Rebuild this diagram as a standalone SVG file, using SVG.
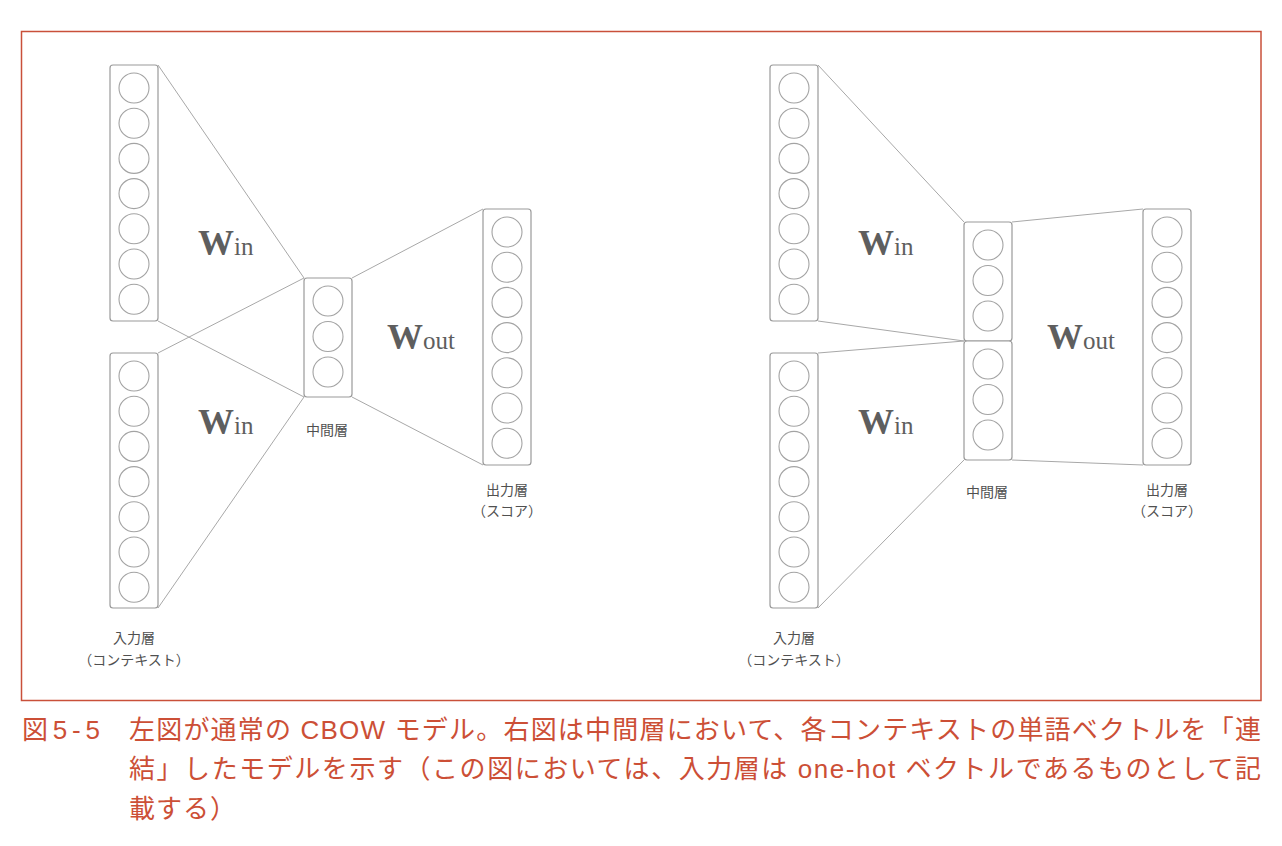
<svg xmlns="http://www.w3.org/2000/svg" width="1282" height="846" viewBox="0 0 1282 846">
<defs>
<style>
.box{fill:#fff;stroke:#9a9a9a;stroke-width:1.2}
.n{fill:none;stroke:#a3a3a3;stroke-width:1.1}
.ln{stroke:#a8a8a8;stroke-width:1;fill:none}
.W{font-family:"Liberation Serif","DejaVu Serif",serif;fill:#5e5e5e}
.Wb{font-weight:bold;font-size:36px}
.Ws{font-size:25px}
.lb{font-family:"Noto Sans CJK JP",sans-serif;font-size:14px;fill:#505050;text-anchor:middle}
.cap{font-family:"Liberation Sans","Noto Sans CJK JP",sans-serif;font-size:26px;fill:#cc4f36}
</style>
<g id="col7">
<circle class="n" cx="0" cy="23" r="15"/><circle class="n" cx="0" cy="58.2" r="15"/><circle class="n" cx="0" cy="93.4" r="15"/><circle class="n" cx="0" cy="128.6" r="15"/><circle class="n" cx="0" cy="163.8" r="15"/><circle class="n" cx="0" cy="199" r="15"/><circle class="n" cx="0" cy="234.2" r="15"/>
</g>
<g id="col3">
<circle class="n" cx="0" cy="23" r="15"/><circle class="n" cx="0" cy="58.5" r="15"/><circle class="n" cx="0" cy="94" r="15"/>
</g>
</defs>
<rect x="0" y="0" width="1282" height="846" fill="#fff"/>
<rect x="21.5" y="31.5" width="1239.5" height="669" fill="none" stroke="#c9503a" stroke-width="1.5"/>

<g id="connectors">
<line class="ln" x1="158" y1="65" x2="304" y2="278"/>
<line class="ln" x1="158" y1="321" x2="304" y2="397"/>
<line class="ln" x1="158" y1="353" x2="304" y2="278"/>
<line class="ln" x1="158" y1="608" x2="304" y2="397"/>
<line class="ln" x1="352" y1="278" x2="483" y2="209"/>
<line class="ln" x1="352" y1="397" x2="483" y2="465"/>
<line class="ln" x1="818" y1="65" x2="964" y2="222"/>
<line class="ln" x1="818" y1="321" x2="964" y2="341"/>
<line class="ln" x1="818" y1="353" x2="964" y2="341"/>
<line class="ln" x1="818" y1="608" x2="964" y2="460"/>
<line class="ln" x1="1012" y1="222" x2="1143" y2="209"/>
<line class="ln" x1="1012" y1="460" x2="1143" y2="465"/>
</g>

<g id="L-in-top"><rect class="box" x="110" y="65" width="48" height="256" rx="3"/><use href="#col7" x="134" y="65"/></g>
<g id="L-in-bot"><rect class="box" x="110" y="353" width="48" height="255" rx="3"/><use href="#col7" x="134" y="353"/></g>
<g id="L-mid"><rect class="box" x="304" y="278" width="48" height="119" rx="3"/><use href="#col3" x="328" y="278"/></g>
<g id="L-out"><rect class="box" x="483" y="209" width="48" height="256" rx="3"/><use href="#col7" x="507" y="209"/></g>

<g id="R-in-top"><rect class="box" x="770" y="65" width="48" height="256" rx="3"/><use href="#col7" x="794" y="65"/></g>
<g id="R-in-bot"><rect class="box" x="770" y="353" width="48" height="255" rx="3"/><use href="#col7" x="794" y="353"/></g>
<g id="R-mid-top"><rect class="box" x="964" y="222" width="48" height="119" rx="3"/><use href="#col3" x="988" y="222"/></g>
<g id="R-mid-bot"><rect class="box" x="964" y="341" width="48" height="119" rx="3"/><use href="#col3" x="988" y="341"/></g>
<g id="R-out"><rect class="box" x="1143" y="209" width="48" height="256" rx="3"/><use href="#col7" x="1167" y="209"/></g>

<g id="weights">
<text class="W" x="198" y="255"><tspan class="Wb">W</tspan><tspan class="Ws">in</tspan></text>
<text class="W" x="198" y="434"><tspan class="Wb">W</tspan><tspan class="Ws">in</tspan></text>
<text class="W" x="387" y="349"><tspan class="Wb">W</tspan><tspan class="Ws">out</tspan></text>
<text class="W" x="858" y="255"><tspan class="Wb">W</tspan><tspan class="Ws">in</tspan></text>
<text class="W" x="858" y="434"><tspan class="Wb">W</tspan><tspan class="Ws">in</tspan></text>
<text class="W" x="1047" y="349"><tspan class="Wb">W</tspan><tspan class="Ws">out</tspan></text>
</g>

<g id="labels">
<text class="lb" x="327" y="435">中間層</text>
<text class="lb" x="507" y="495">出力層</text>
<text class="lb" x="507" y="516">（スコア）</text>
<text class="lb" x="134" y="643">入力層</text>
<text class="lb" x="134" y="665">（コンテキスト）</text>
<text class="lb" x="987" y="497">中間層</text>
<text class="lb" x="1167" y="495">出力層</text>
<text class="lb" x="1167" y="516">（スコア）</text>
<text class="lb" x="794" y="643">入力層</text>
<text class="lb" x="794" y="665">（コンテキスト）</text>
</g>

<g id="caption">
<text class="cap" x="22" y="739" textLength="78" lengthAdjust="spacing">図5-5</text>
<text class="cap" x="129" y="739" textLength="1132" lengthAdjust="spacing">左図が通常の CBOW モデル。右図は中間層において、各コンテキストの単語ベクトルを「連</text>
<text class="cap" x="129" y="778" textLength="1132" lengthAdjust="spacing">結」したモデルを示す（この図においては、入力層は one-hot ベクトルであるものとして記</text>
<text class="cap" x="129" y="818" letter-spacing="1">載する）</text>
</g>
</svg>
